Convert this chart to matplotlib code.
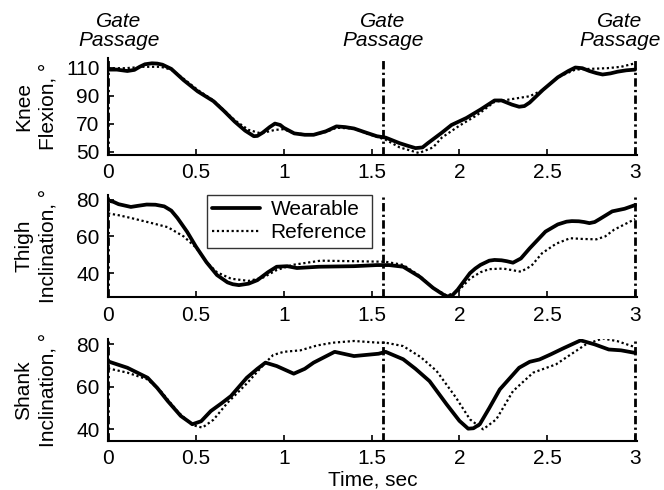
import matplotlib
matplotlib.use("Agg")
import matplotlib.pyplot as plt

plt.rcParams["font.family"] = ["Liberation Sans", "DejaVu Sans"]
plt.rcParams["font.size"] = 15

# gate passage instants, sec
gate_t = [0.0, 1.565, 3.0]

# knee flexion
knee_w_t = [0.00, 0.05, 0.08, 0.11, 0.15, 0.18, 0.21, 0.25, 0.28, 0.31, 0.36, 0.43, 0.51, 0.60, 0.66,
            0.72, 0.78, 0.83, 0.85, 0.88, 0.92, 0.95, 0.98, 1.00, 1.03, 1.06, 1.12, 1.17, 1.24, 1.30,
            1.35, 1.40, 1.47, 1.53, 1.58, 1.66, 1.71, 1.75, 1.79, 1.82, 1.90, 1.955, 2.04, 2.12, 2.20,
            2.24, 2.27, 2.30, 2.34, 2.37, 2.40, 2.475, 2.56, 2.62, 2.66, 2.70, 2.74, 2.78, 2.815, 2.86,
            2.90, 2.95, 3.00]
knee_w = [108.5, 108.5, 108, 107.5, 108.3, 110.5, 112.3, 113, 112.8, 112, 109, 101, 93, 86, 79,
          71.5, 65, 61, 61.2, 63.5, 67.5, 70, 69, 67, 65, 63, 62, 62, 64.5, 68,
          67.5, 66.5, 63.5, 61, 60, 56, 54, 52.5, 53, 56, 63.5, 69, 74, 80, 86.5,
          86.5, 85, 83.5, 82, 82.5, 85, 94, 103, 107.5, 110, 109.5, 107.5, 106, 105, 105.8,
          107, 108, 108.5]
knee_r_t = [0.00, 0.10, 0.20, 0.30, 0.36, 0.43, 0.51, 0.60, 0.72, 0.80, 0.87, 0.95, 1.00, 1.06, 1.17,
            1.24, 1.30, 1.40, 1.47, 1.58, 1.66, 1.77, 1.85, 1.90, 2.00, 2.10, 2.20, 2.30, 2.40, 2.475,
            2.56, 2.66, 2.74, 2.84, 2.92, 3.00]
knee_r = [109.5, 109.5, 110.5, 110.5, 108.5, 102, 94, 86.5, 72.5, 65.5, 63, 65.5, 66, 63, 62,
          64, 67, 66.5, 63, 58.5, 53, 49, 53, 60, 68.5, 76, 85.5, 87.5, 89.5, 94,
          103, 108.5, 109, 109.5, 110.5, 113]

# thigh inclination
thigh_w_t = [0.00, 0.03, 0.06, 0.13, 0.17, 0.22, 0.27, 0.32, 0.36, 0.395, 0.45, 0.50, 0.56, 0.62, 0.68,
             0.71, 0.745, 0.80, 0.85, 0.91, 0.96, 1.02, 1.075, 1.20, 1.40, 1.53, 1.60, 1.68, 1.775, 1.85,
             1.89, 1.927, 1.96, 1.99, 2.06, 2.09, 2.12, 2.17, 2.20, 2.24, 2.27, 2.305, 2.35, 2.40, 2.49,
             2.56, 2.61, 2.64, 2.68, 2.71, 2.74, 2.77, 2.80, 2.87, 2.94, 2.97, 3.00]
thigh_w = [79.5, 78.8, 77.5, 76, 76.6, 77.3, 77.2, 76.3, 74, 70, 62.5, 54.5, 46, 39, 35,
           34, 33.5, 34.3, 36.2, 40.5, 43.5, 43.8, 42.8, 43.5, 43.8, 44.4, 44.4, 43.5, 38, 32,
           29.5, 27.3, 28, 31, 40, 42.5, 44.5, 46.8, 47.2, 47, 46.5, 45.7, 48, 53.5, 62.6,
           66.5, 68, 68.3, 68.2, 67.8, 67.2, 67.8, 69.5, 73.6, 75, 76, 77]
thigh_r_t = [0.00, 0.06, 0.13, 0.25, 0.34, 0.43, 0.50, 0.56, 0.62, 0.70, 0.80, 0.88, 0.96, 1.05, 1.21,
             1.40, 1.58, 1.68, 1.775, 1.85, 1.93, 1.99, 2.06, 2.12, 2.17, 2.25, 2.35, 2.41, 2.47, 2.55,
             2.63, 2.70, 2.78, 2.83, 2.88, 2.95, 3.00]
thigh_r = [72.5, 71.5, 70, 67.2, 65, 60, 54, 46, 40.5, 37, 35.8, 37.5, 41.7, 44.5, 46.8,
           46.5, 46.2, 44.5, 38.5, 32, 27.8, 30, 37, 40.5, 42.2, 42.5, 40.8, 44, 50.8, 56,
           59, 58.6, 58.4, 60, 63.6, 67, 69.4]

# shank inclination
shank_w_t = [0.00, 0.11, 0.225, 0.28, 0.34, 0.414, 0.48, 0.53, 0.585, 0.65, 0.70, 0.79, 0.85, 0.896, 0.96,
             1.057, 1.12, 1.17, 1.29, 1.40, 1.54, 1.58, 1.68, 1.75, 1.83, 1.927, 2.00, 2.05, 2.08, 2.116,
             2.17, 2.23, 2.34, 2.40, 2.456, 2.52, 2.59, 2.69, 2.77, 2.85, 2.92, 3.00]
shank_w = [72, 69, 64.3, 59.5, 53.3, 46.3, 42.4, 43.8, 48.6, 52.5, 55.7, 64.3, 68.5, 71.4, 69.8,
           66.2, 68.5, 71.4, 76.5, 74.5, 75.6, 76.5, 73, 68.5, 62.7, 51.8, 44, 40.3, 40.5, 42.4,
           50, 58.8, 69, 71.8, 72.9, 75.3, 78.1, 81.9, 80, 77.6, 77.2, 76]
shank_r_t = [0.00, 0.11, 0.225, 0.30, 0.40, 0.48, 0.537, 0.60, 0.68, 0.79, 0.896, 0.94, 1.00, 1.095, 1.19,
             1.28, 1.40, 1.54, 1.58, 1.68, 1.78, 1.87, 1.98, 2.06, 2.135, 2.21, 2.305, 2.42, 2.55, 2.62,
             2.72, 2.815, 2.90, 3.00]
shank_r = [68.7, 66.7, 63.5, 58, 48, 42, 40.8, 44.5, 52.5, 61.6, 71.4, 75, 76.5, 77.2, 79.5,
           80.8, 81.6, 80.8, 80.8, 79.2, 74, 67.5, 55, 44.7, 40, 44.7, 58, 66.7, 70.6, 74.5,
           80, 82.8, 81.5, 78.7]

panels = [
  ("Knee\nFlexion, \u00b0", knee_w_t, knee_w, knee_r_t, knee_r, (47.6, 116.8), [50, 70, 90, 110]),
  ("Thigh\nInclination, \u00b0", thigh_w_t, thigh_w, thigh_r_t, thigh_r, (26.9, 82.5), [40, 60, 80]),
  ("Shank\nInclination, \u00b0", shank_w_t, shank_w, shank_r_t, shank_r, (34.5, 82.5), [40, 60, 80]),
]
boxes = [[0.1627, 0.6837, 0.7964, 0.198], [0.1627, 0.3933, 0.7964, 0.2088], [0.1627, 0.100, 0.7964, 0.208]]

fig = plt.figure(figsize=(6.64, 4.90), dpi=100)
axes = []
for box, (lab, wt, wv, rt, rv, ylim, yt) in zip(boxes, panels):
  ax = fig.add_axes(box)
  ax.plot(wt, wv, color="black", lw=2.7, solid_joinstyle="round", solid_capstyle="round", label="Wearable")
  ax.plot(rt, rv, color="black", lw=1.6, ls=(0, (1, 1.2)), label="Reference")
  for g in gate_t: ax.axvline(g, color="black", lw=2.0, ls=(0, (3, 1.2, 0.8, 1.2)))
  ax.set_xlim(0, 3.01)
  ax.set_ylim(*ylim)
  ax.set_yticks(yt)
  ax.set_xticks([0, 0.5, 1, 1.5, 2, 2.5, 3])
  ax.set_xticklabels(["0", "0.5", "1", "1.5", "2", "2.5", "3"])
  for s in ("top", "right"): ax.spines[s].set_visible(False)
  for s in ("left", "bottom"): ax.spines[s].set_linewidth(1.5)
  ax.tick_params(direction="in", length=4, width=1.2, pad=6, labelsize=15)
  ax.set_ylabel(lab, fontsize=15, linespacing=1.35)
  ax.yaxis.set_label_coords(-0.095, 0.5)
  ax.patch.set_alpha(0)
  axes.append(ax)

axes[1].legend(loc="upper left", bbox_to_anchor=(0.187, 1.0), fontsize=15, frameon=True, fancybox=False,
               edgecolor="black", handlelength=2.3, borderpad=0.25, labelspacing=0.2, handletextpad=0.5,
               borderaxespad=0)
axes[1].get_legend().get_frame().set_linewidth(1.0)
axes[2].set_xlabel("Time, sec", fontsize=15, labelpad=1.5)

gate_dx = [0.06, 0.0, -0.086]
for g, dx in zip(gate_t, gate_dx):
  axes[0].text(g + dx, 1.08, "Gate\nPassage", transform=axes[0].get_xaxis_transform(), ha="center",
               va="bottom", style="italic", fontsize=15, linespacing=1.0)

fig.savefig("out.png", dpi=100)
